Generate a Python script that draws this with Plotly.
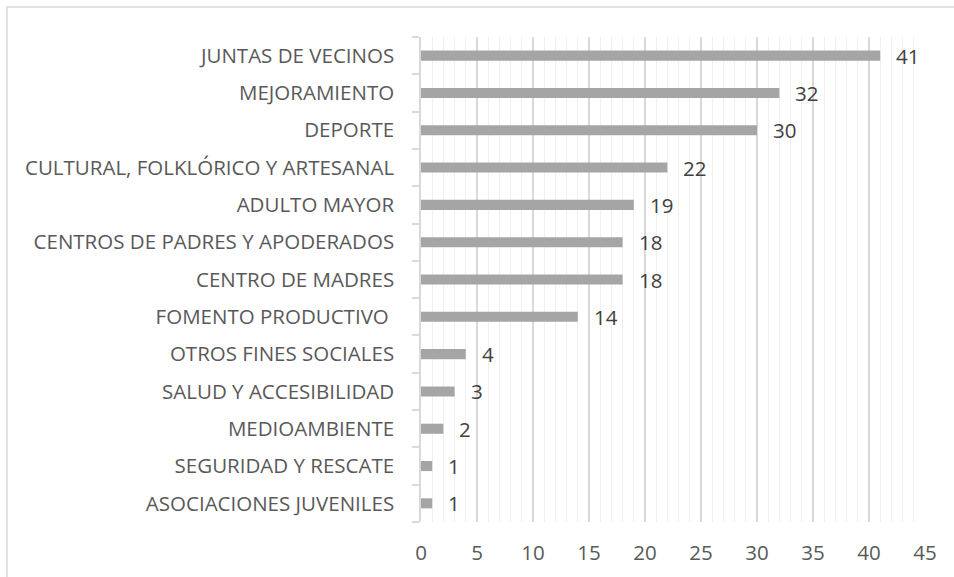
import plotly.graph_objects as go

# Organizaciones por tipo (cantidad)
categorias = [
    "JUNTAS DE VECINOS",
    "MEJORAMIENTO",
    "DEPORTE",
    "CULTURAL, FOLKLÓRICO Y ARTESANAL",
    "ADULTO MAYOR",
    "CENTROS DE PADRES Y APODERADOS",
    "CENTRO DE MADRES",
    "FOMENTO PRODUCTIVO ",
    "OTROS FINES SOCIALES",
    "SALUD Y ACCESIBILIDAD",
    "MEDIOAMBIENTE",
    "SEGURIDAD Y RESCATE",
    "ASOCIACIONES JUVENILES",
]
cantidades = [41, 32, 30, 22, 19, 18, 18, 14, 4, 3, 2, 1, 1]
x_ticks = [0, 5, 10, 15, 20, 25, 30, 35, 40, 45]

FONT = "Open Sans"
W, H = 954, 577
ML, MR, MT, MB = 421, 29, 37, 55

fig = go.Figure()
fig.add_trace(go.Bar(
    x=cantidades,
    y=categorias,
    orientation="h",
    marker=dict(color="#a5a5a5", line=dict(width=0)),
    hoverinfo="x+y",
))

# etiquetas de valor a la derecha de cada barra
for cat, val in zip(categorias, cantidades):
    fig.add_annotation(
        x=val, y=cat, text=str(val), showarrow=False,
        xanchor="left", yanchor="middle", xshift=14,
        font=dict(family=FONT, size=20.5, color="#404040"),
    )

# marco exterior del gráfico
pw, ph = W - ML - MR, H - MT - MB
def px_x(p):
    return (p - ML) / pw
def px_y(p):
    return (H - MB - p) / ph

fig.add_shape(
    type="rect", xref="paper", yref="paper",
    x0=px_x(7), x1=px_x(W + 20), y0=px_y(H + 20), y1=px_y(7),
    line=dict(color="#d9d9d9", width=1.5), fillcolor="rgba(0,0,0,0)",
    layer="below",
)

fig.update_layout(
    width=W, height=H,
    margin=dict(l=ML, r=MR, t=MT, b=MB, pad=0),
    paper_bgcolor="white", plot_bgcolor="white",
    showlegend=False,
    bargap=0.73,
    font=dict(family=FONT, size=20.5, color="#595959"),
)
fig.update_xaxes(
    range=[0, 45],
    tickvals=x_ticks,
    ticktext=[str(t) for t in x_ticks],
    showgrid=True, gridcolor="#d9d9d9", gridwidth=1.5,
    minor=dict(dtick=1, showgrid=True, gridcolor="#f0f0f0", gridwidth=1),
    zeroline=False, showline=False, ticks="",
    tickfont=dict(family=FONT, size=20.5, color="#595959"),
    ticklabelstandoff=16,
)
fig.update_yaxes(
    type="category",
    categoryorder="array", categoryarray=categorias[::-1],
    showgrid=False, zeroline=False,
    showline=True, linecolor="#d9d9d9", linewidth=1.5,
    ticks="outside", tickson="boundaries", ticklen=7, tickcolor="#d9d9d9", tickwidth=1.5,
    tickfont=dict(family=FONT, size=20.5, color="#595959"),
    ticklabelstandoff=21,
)

fig.write_html("out.html")
